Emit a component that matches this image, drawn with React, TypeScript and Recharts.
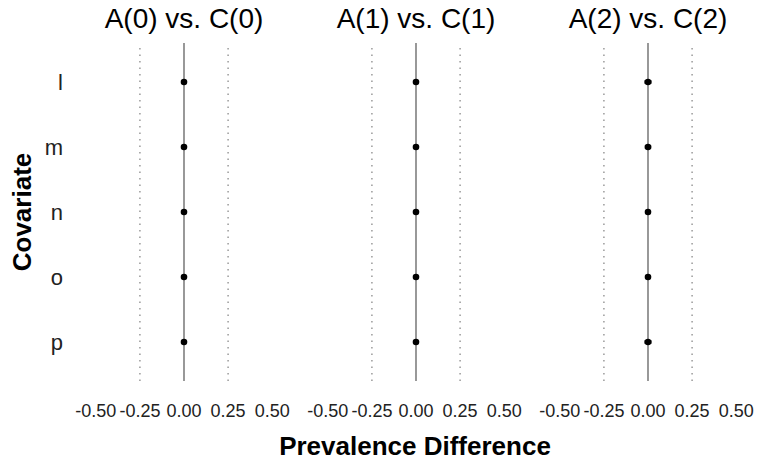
import React from "react";
import { ScatterChart, Scatter, XAxis, YAxis, ReferenceLine, ErrorBar } from "recharts";

const covariates = ["l", "m", "n", "o", "p"];
const panelTitles = ["A(0) vs. C(0)", "A(1) vs. C(1)", "A(2) vs. C(2)"];
const estimates0 = [0.0, 0.0, 0.0, 0.0, 0.0];
const errors0 = [0.008, 0.006, 0.006, 0.006, 0.006];
const estimates1 = [0.0, 0.0, 0.0, 0.0, 0.0];
const errors1 = [0.012, 0.01, 0.008, 0.008, 0.012];
const estimates2 = [0.0, 0.0, 0.0, 0.0, 0.0];
const errors2 = [0.02, 0.018, 0.012, 0.014, 0.02];
const xTicks = [-0.5, -0.25, 0, 0.25, 0.5];
const dottedAt = [-0.25, 0.25];

const FONT = '"Liberation Sans", Arial, sans-serif';
const PLOT_W = 194;
const PLOT_H = 338;
const TOP = 43;
const SIDE = 30;
const panelLefts = [87, 319, 551];

const panels = [
  { est: estimates0, err: errors0 },
  { est: estimates1, err: errors1 },
  { est: estimates2, err: errors2 },
];

const Dot = (props: any) => <circle cx={props.cx} cy={props.cy} r={3.3} fill="#000" />;

function Panel({ idx }: { idx: number }) {
  const first = idx === 0;
  const rows = covariates.map((c, i) => ({
    pos: i + 1,
    cov: c,
    est: panels[idx].est[i],
    err: panels[idx].err[i],
  }));
  const yW = first ? 30 : 0;
  const ml = first ? panelLefts[0] - yW : SIDE;
  const left = first ? 0 : panelLefts[idx] - SIDE;
  const plotLeft = ml + yW;
  return (
    <div style={{ position: "absolute", left, top: 0 }}>
      <ScatterChart
        width={plotLeft + PLOT_W + SIDE}
        height={TOP + PLOT_H + 40}
        margin={{ top: TOP, right: SIDE, bottom: 0, left: ml }}
      >
        <XAxis
          type="number"
          dataKey="est"
          domain={[-0.55, 0.55]}
          ticks={xTicks}
          interval={0}
          allowDataOverflow
          axisLine={false}
          tickLine={false}
          tickMargin={17}
          height={40}
          tickFormatter={(v: number) => v.toFixed(2)}
          tick={{ fill: "#222", fontSize: 18, fontFamily: FONT }}
        />
        <YAxis
          type="number"
          dataKey="pos"
          domain={[0.4, 5.6]}
          reversed
          ticks={[1, 2, 3, 4, 5]}
          interval={0}
          hide={!first}
          width={yW}
          axisLine={false}
          tickLine={false}
          tickMargin={18}
          tickFormatter={(v: number) => covariates[v - 1]}
          tick={{ fill: "#222", fontSize: 22, fontFamily: FONT }}
        />
        {dottedAt.map((x) => (
          <ReferenceLine key={x} x={x} stroke="#9a9a9a" strokeWidth={1.5} strokeDasharray="1.5 5" />
        ))}
        <ReferenceLine x={0} stroke="#7f7f7f" strokeWidth={1.6} />
        <Scatter data={rows} shape={Dot} isAnimationActive={false}>
          <ErrorBar dataKey="err" direction="x" width={0} stroke="#000" strokeWidth={3.5} />
        </Scatter>
      </ScatterChart>
      <div
        style={{
          position: "absolute",
          top: 5,
          left: plotLeft + PLOT_W / 2,
          transform: "translateX(-50%)",
          whiteSpace: "nowrap",
          fontFamily: FONT,
          fontSize: 28,
          lineHeight: "28px",
          color: "#000",
        }}
      >
        {panelTitles[idx]}
      </div>
    </div>
  );
}

export default function App() {
  return (
    <div style={{ position: "absolute", left: 0, top: 0, width: 759, height: 466, background: "#fff", overflow: "hidden" }}>
      {panelTitles.map((_, i) => (
        <Panel key={i} idx={i} />
      ))}
      <div
        style={{
          position: "absolute",
          left: 415,
          top: 433,
          transform: "translateX(-50%)",
          whiteSpace: "nowrap",
          fontFamily: FONT,
          fontSize: 26,
          fontWeight: "bold",
          lineHeight: "26px",
        }}
      >
        Prevalence Difference
      </div>
      <div
        style={{
          position: "absolute",
          left: 22,
          top: 212,
          transform: "translate(-50%, -50%) rotate(-90deg)",
          whiteSpace: "nowrap",
          fontFamily: FONT,
          fontSize: 26,
          fontWeight: "bold",
          lineHeight: "26px",
        }}
      >
        Covariate
      </div>
    </div>
  );
}
